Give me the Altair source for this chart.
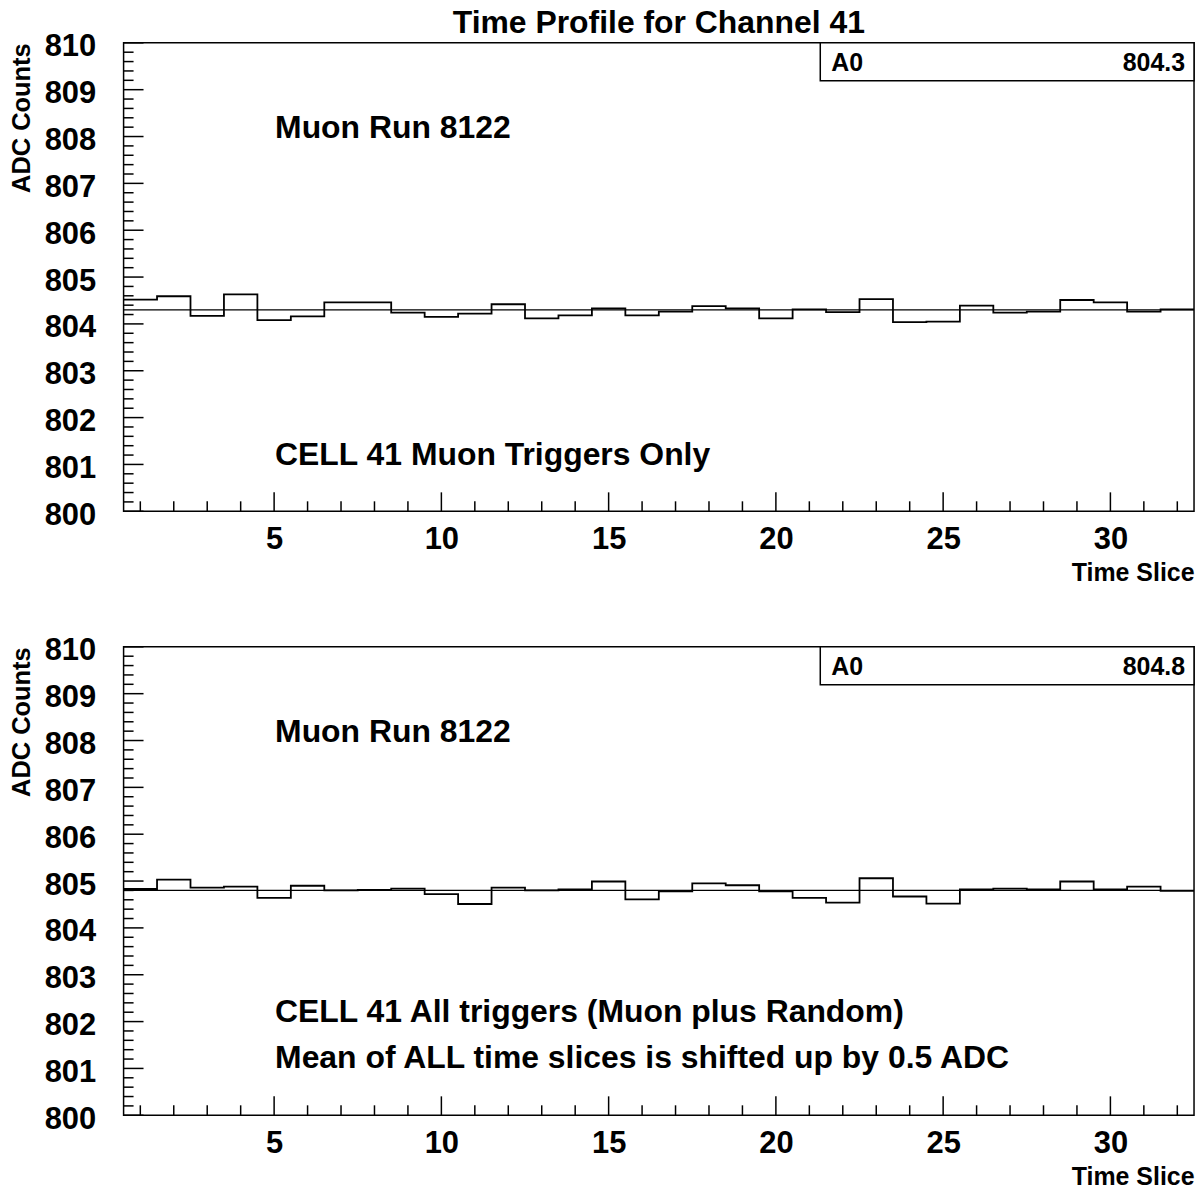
import altair as alt
import pandas as pd

# Time-slice profile of channel 41, two trigger selections
time_slices = list(range(1, 33))

muon_only = [804.52, 804.59, 804.17, 804.63, 804.08, 804.16, 804.46, 804.46,
             804.24, 804.15, 804.22, 804.42, 804.12, 804.18, 804.33, 804.18,
             804.26, 804.38, 804.33, 804.12, 804.31, 804.25, 804.53, 804.04,
             804.05, 804.39, 804.24, 804.26, 804.51, 804.46, 804.26, 804.31]

all_triggers = [804.83, 805.03, 804.86, 804.88, 804.64, 804.90, 804.80, 804.81,
                804.84, 804.72, 804.51, 804.86, 804.80, 804.82, 804.99, 804.61,
                804.78, 804.95, 804.91, 804.78, 804.64, 804.54, 805.06, 804.67,
                804.52, 804.82, 804.84, 804.82, 804.99, 804.82, 804.88, 804.79]

fit_a0 = [804.3, 804.8]

x_major = [5, 10, 15, 20, 25, 30]
y_major = list(range(800, 811))

top_notes = [("Muon Run 8122", 95), ("CELL 41 Muon Triggers Only", 424)]
bottom_notes = [("Muon Run 8122", 95),
                ("CELL 41 All triggers (Muon plus Random)", 376),
                ("Mean of ALL time slices is shifted up by 0.5 ADC", 423)]

FONT = "Liberation Sans"
W, H = 1074, 470
XDOM = [0.5, 32.5]
YDOM = [800, 810]

x_minor = [t for t in time_slices if t not in x_major]
y_minor = [800 + i / 5 for i in range(51) if i % 5]


def xenc(axis=True):
    kw = {}
    if axis:
        kw["axis"] = alt.Axis(
            values=x_major, format="d", labelPadding=13, labelOverlap=False,
            title="Time Slice", titleAnchor="end", titleAlign="right",
            titleX=W, titleY=69, titleBaseline="alphabetic", titleFontSize=25)
    return alt.X("edge:Q", scale=alt.Scale(domain=XDOM, nice=False, zero=False), **kw)


def yenc(axis=True):
    kw = {}
    if axis:
        kw["axis"] = alt.Axis(
            values=y_major, format="d", labelPadding=28, labelOffset=4,
            labelOverlap=False,
            title="ADC Counts", titleAngle=270, titleAlign="right",
            titleBaseline="alphabetic", titleX=-94, titleY=0, titleFontSize=25.5)
    return alt.Y("adc:Q", scale=alt.Scale(domain=YDOM, nice=False, zero=False), **kw)


def panel(values, a0, notes, title=None):
    edges = pd.DataFrame({
        "edge": [t - 0.5 for t in time_slices] + [time_slices[-1] + 0.5],
        "adc": values + [values[-1]],
    })

    hist = alt.Chart(edges).mark_line(
        interpolate="step-after", color="black", strokeWidth=1.8
    ).encode(x=xenc(), y=yenc())

    fit = alt.Chart(pd.DataFrame({"adc": [a0]})).mark_rule(
        color="black", strokeWidth=1.1
    ).encode(y=yenc())

    xt_major = alt.Chart(pd.DataFrame({"edge": x_major})).mark_rule(
        color="black", strokeWidth=1.5
    ).encode(x=xenc(), y=alt.value(H), y2=alt.value(H - 19))
    xt_minor = alt.Chart(pd.DataFrame({"edge": x_minor})).mark_rule(
        color="black", strokeWidth=1.5
    ).encode(x=xenc(), y=alt.value(H), y2=alt.value(H - 10))
    yt_major = alt.Chart(pd.DataFrame({"adc": y_major})).mark_rule(
        color="black", strokeWidth=1.5
    ).encode(y=yenc(), x=alt.value(0), x2=alt.value(20))
    yt_minor = alt.Chart(pd.DataFrame({"adc": y_minor})).mark_rule(
        color="black", strokeWidth=1.5
    ).encode(y=yenc(), x=alt.value(0), x2=alt.value(10))

    # fit-parameter box in the upper right corner
    stat = pd.DataFrame({"name": ["A0"], "val": [f"{a0:.1f}"]})
    box = alt.Chart(stat).mark_rect(
        fill="white", stroke="black", strokeWidth=1.5
    ).encode(x=alt.value(699), x2=alt.value(W), y=alt.value(0), y2=alt.value(38))
    box_name = alt.Chart(stat).mark_text(
        align="left", baseline="alphabetic", font=FONT, fontWeight="bold",
        fontSize=25, color="black"
    ).encode(x=alt.value(710), y=alt.value(28), text="name:N")
    box_val = alt.Chart(stat).mark_text(
        align="right", baseline="alphabetic", font=FONT, fontWeight="bold",
        fontSize=25, color="black"
    ).encode(x=alt.value(1065), y=alt.value(28), text="val:N")

    layers = [hist, fit, xt_major, xt_minor, yt_major, yt_minor, box, box_name, box_val]

    for text, ypix in notes:
        layers.append(
            alt.Chart(pd.DataFrame({"note": [text]})).mark_text(
                align="left", baseline="alphabetic", font=FONT,
                fontWeight="bold", fontSize=32, color="black"
            ).encode(x=alt.value(152), y=alt.value(ypix), text="note:N")
        )

    if title:
        layers.append(
            alt.Chart(pd.DataFrame({"title": [title]})).mark_text(
                align="center", baseline="alphabetic", font=FONT,
                fontWeight="bold", fontSize=32, color="black"
            ).encode(x=alt.value(W / 2), y=alt.value(-10), text="title:N")
        )

    return alt.layer(*layers).properties(width=W, height=H)


top = panel(muon_only, fit_a0[0], top_notes, title="Time Profile for Channel 41")
bottom = panel(all_triggers, fit_a0[1], bottom_notes)

chart = alt.vconcat(top, bottom, spacing=48).properties(
    padding={"left": 9, "top": 4, "right": 4, "bottom": 0},
    background="white",
).configure_view(
    stroke="black", strokeWidth=1.5
).configure_axis(
    ticks=False, domain=False, grid=False,
    labelFont=FONT, labelFontWeight="bold", labelFontSize=31, labelColor="black",
    titleFont=FONT, titleFontWeight="bold", titleColor="black",
)

chart.save("out.html", embed_options={"renderer": "svg", "actions": False})
